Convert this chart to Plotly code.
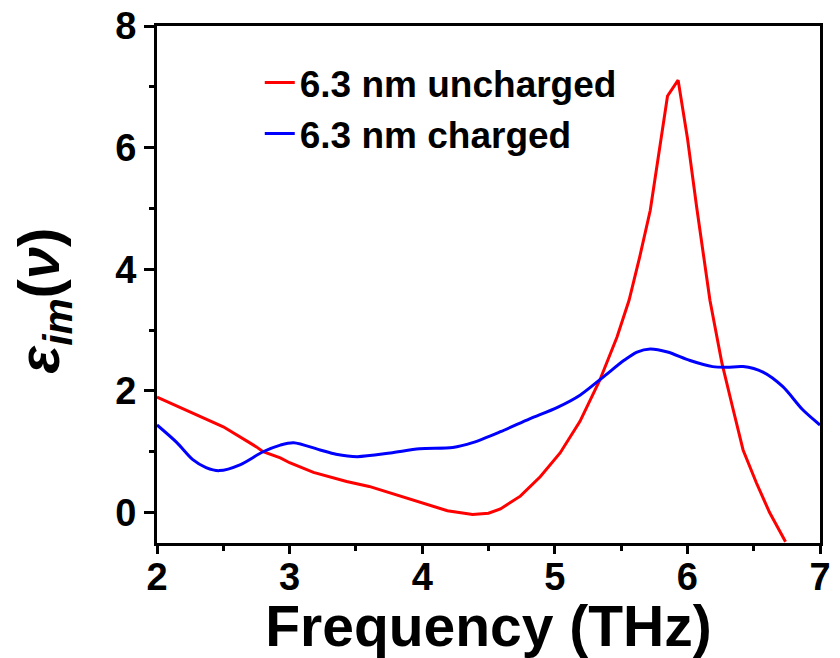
import plotly.graph_objects as go

# Uncharged (red)
freq_unch = [2.0, 2.25, 2.5, 2.75, 2.8, 2.93, 3.0, 3.18, 3.43, 3.6, 3.73, 3.98, 4.19, 4.38, 4.5,
             4.59, 4.74, 4.89, 5.04, 5.19, 5.34, 5.47, 5.56, 5.64, 5.72, 5.85, 5.93, 6.0,
             6.07, 6.17, 6.26, 6.34, 6.42, 6.52, 6.62, 6.74]
eps_unch = [1.90, 1.66, 1.41, 1.08, 1.00, 0.90, 0.82, 0.66, 0.51, 0.43, 0.34, 0.17, 0.03, -0.03, -0.01,
            0.06, 0.27, 0.59, 0.98, 1.50, 2.18, 2.89, 3.49, 4.20, 4.97, 6.85, 7.11, 6.16,
            5.02, 3.49, 2.46, 1.74, 1.03, 0.49, 0.0, -0.48]

# Charged (blue)
freq_ch = [2.0, 2.15, 2.27, 2.37, 2.47, 2.63, 2.8, 2.93, 3.03, 3.23, 3.35, 3.51, 3.76, 3.98, 4.23,
           4.38, 4.59, 4.81, 5.02, 5.19, 5.36, 5.52, 5.62, 5.72, 5.85, 6.02, 6.19, 6.3, 6.42,
           6.57, 6.72, 6.87, 7.0]
eps_ch = [1.44, 1.15, 0.87, 0.74, 0.69, 0.79, 1.00, 1.11, 1.15, 1.03, 0.96, 0.92, 0.98, 1.05, 1.07,
          1.15, 1.33, 1.54, 1.73, 1.93, 2.22, 2.50, 2.64, 2.69, 2.64, 2.50, 2.40, 2.39, 2.40,
          2.31, 2.07, 1.69, 1.44]

x_ticks = [2, 3, 4, 5, 6, 7]
y_ticks = [0, 2, 4, 6, 8]

FONT = "Liberation Sans, Arial, sans-serif"

fig = go.Figure()
fig.add_trace(go.Scatter(x=freq_unch, y=eps_unch, mode="lines", name="6.3 nm uncharged",
                         line=dict(color="#ff0000", width=3)))
fig.add_trace(go.Scatter(x=freq_ch, y=eps_ch, mode="lines", name="6.3 nm charged",
                         line=dict(color="#0000ff", width=3, shape="spline", smoothing=0.8)))

axis_common = dict(
    showline=True, linecolor="black", linewidth=3, mirror=True,
    ticks="outside", tickcolor="black", tickwidth=3,
    showgrid=False, zeroline=False, automargin=False,
    tickfont=dict(family=FONT, size=38, color="black", weight="bold"),
)

fig.update_xaxes(
    range=[2, 7], tickvals=x_ticks, ticktext=[str(v) for v in x_ticks],
    ticklen=8, ticklabelstandoff=-10,
    minor=dict(ticks="outside", ticklen=5, tickwidth=3, tickcolor="black", dtick=0.5),
    title=dict(text="Frequency (THz)", font=dict(family=FONT, size=57, color="black", weight="bold"),
               standoff=4),
    **axis_common,
)
fig.update_yaxes(
    range=[-0.5, 8], tickvals=y_ticks, ticktext=[str(v) for v in y_ticks],
    ticklen=10,
    minor=dict(ticks="outside", ticklen=5, tickwidth=3, tickcolor="black", dtick=1),
    title=dict(text="<i>ε</i><sub><i>im</i></sub>(<i>ν</i>)&nbsp;&nbsp;",
               font=dict(family=FONT, size=58, color="black", weight="bold"), standoff=37),
    **axis_common,
)

fig.update_layout(
    width=840, height=658,
    margin=dict(l=157, r=20, t=26, b=115),
    plot_bgcolor="white", paper_bgcolor="white",
    legend=dict(x=0.155, y=0.95, xanchor="left", yanchor="top",
                font=dict(family=FONT, size=37, color="black", weight="bold"),
                bgcolor="rgba(0,0,0,0)", tracegroupgap=0, itemwidth=30),
    showlegend=True,
)

fig.write_html("out.html")
